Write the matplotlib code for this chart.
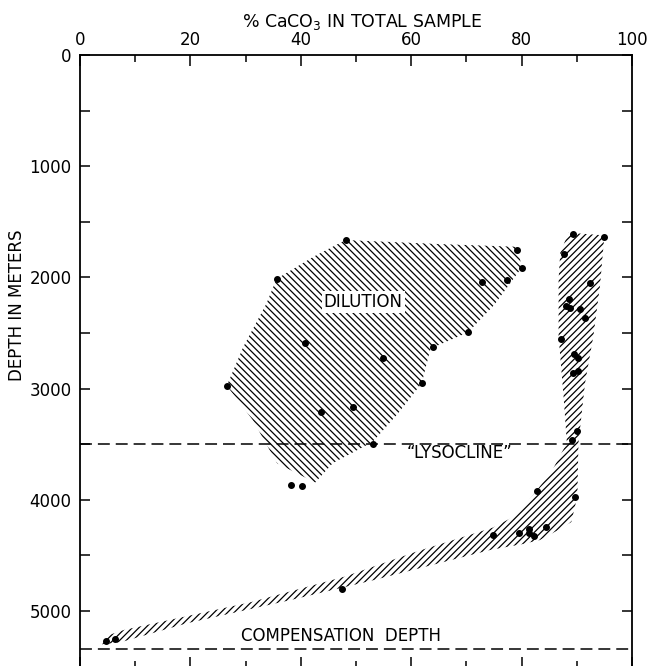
import matplotlib
matplotlib.use('Agg')
import matplotlib.pyplot as plt
from matplotlib.ticker import MultipleLocator, FixedLocator

plt.rcParams['font.family'] = ['DejaVu Sans']
plt.rcParams['hatch.linewidth'] = 0.9

# ---- data ----
x_ticks = [0, 20, 40, 60, 80, 100]
y_ticks = [0, 1000, 2000, 3000, 4000, 5000]
lysocline_depth = 3500
compensation_depth = 5340

# samples in the "dilution" field
dil_pct = [48.1, 35.6, 72.8, 70.3, 64.0, 40.8, 54.9, 26.6, 61.9, 43.7, 49.5, 53.0,
           79.2, 80.0, 77.4, 38.2, 40.3]
dil_depth = [1664, 2014, 2044, 2494, 2629, 2587, 2725, 2974, 2952, 3213, 3163, 3498,
             1750, 1911, 2025, 3864, 3879]

# samples along the main CaCO3-depth trend
band_pct = [89.4, 94.9, 87.6, 92.4, 88.6, 88.0, 88.8, 90.5, 91.5, 87.1, 89.5, 90.2,
            89.3, 90.2, 90.0, 89.1, 82.8, 89.7, 74.8, 79.6, 81.4, 81.4, 82.2, 84.5,
            47.5, 4.7, 6.4]
band_depth = [1610, 1639, 1790, 2048, 2194, 2254, 2272, 2284, 2368, 2557, 2692, 2722,
              2857, 2839, 3381, 3462, 3918, 3972, 4320, 4302, 4266, 4302, 4326, 4245,
              4802, 5270, 5255]

# outline of the hatched dilution field
dil_field_pct = [48.1, 42.3, 35.6, 33.8, 29.6, 26.6, 31.3, 35.7, 42.6, 45.8, 53.0,
                 57.5, 61.9, 63.5, 70.3, 75.0, 80.0, 79.3, 65.0]
dil_field_depth = [1664, 1814, 2014, 2233, 2623, 2974, 3283, 3671, 3845, 3670, 3480,
                   3230, 2952, 2640, 2494, 2250, 1913, 1725, 1700]

# outline of the hatched trend band
band_field_pct = [95.0, 94.2, 93.0, 91.5, 90.3, 90.1, 89.0, 86.5, 83.3, 80.0, 74.4,
                  53.3, 38.2, 19.4, 7.4, 4.0, 5.0, 8.0, 31.0, 48.0, 61.0, 74.8, 79.0,
                  82.5, 85.5, 88.2, 87.6, 86.7, 86.7, 87.0, 88.5]
band_field_depth = [1622, 2078, 2529, 2949, 3489, 3970, 4200, 4275, 4362, 4400, 4450,
                    4721, 4901, 5110, 5280, 5300, 5220, 5170, 4920, 4690, 4465, 4250,
                    4140, 3930, 3740, 3489, 3069, 2529, 2018, 1778, 1598]

# ---- figure ----
W, H = 652, 666
fig = plt.figure(figsize=(W / 100, H / 100), dpi=100)
ymax = 5510
top_px = 55
ppk = 111.2  # pixels per 1000 m
ax_h_px = ymax / 1000 * ppk
ax = fig.add_axes([80 / W, (H - top_px - ax_h_px) / H, 552 / W, ax_h_px / H])
ax.set_xlim(0, 100)
ax.set_ylim(ymax, 0)

ax.fill(dil_field_pct, dil_field_depth, facecolor='none', edgecolor='black',
        linewidth=0, hatch='\\' * 5, zorder=1)
ax.fill(band_field_pct, band_field_depth, facecolor='none', edgecolor='black',
        linewidth=0, hatch='/' * 5, zorder=1)

ax.axhline(lysocline_depth, color='black', lw=1.1, dashes=(7.8, 3.9), zorder=2)
ax.axhline(compensation_depth, color='black', lw=1.1, dashes=(7.8, 3.9), zorder=2)

ax.plot(dil_pct, dil_depth, 'o', color='black', ms=4, zorder=3)
ax.plot(band_pct, band_depth, 'o', color='black', ms=4, zorder=3)

ax.text(51.3, 2221, 'DILUTION', fontsize=12, ha='center', va='center',
        bbox=dict(facecolor='white', edgecolor='none', pad=1.5), zorder=4)
ax.text(68.8, 3575, '\u201CLYSOCLINE\u201D', fontsize=12, ha='center', va='center',
        zorder=4)
ax.text(47.3, 5225, 'COMPENSATION  DEPTH', fontsize=12, ha='center', va='center',
        zorder=4)

# axes styling
ax.xaxis.set_ticks_position('both')
ax.xaxis.set_label_position('top')
ax.xaxis.set_major_locator(FixedLocator(x_ticks))
ax.xaxis.set_minor_locator(MultipleLocator(10))
ax.tick_params(axis='x', which='both', direction='in', labeltop=True,
               labelbottom=False, top=True, bottom=True)
ax.tick_params(axis='x', which='major', length=8, width=1.1, labelsize=12, pad=4)
ax.tick_params(axis='x', which='minor', length=5, width=1.1)

ax.yaxis.set_major_locator(FixedLocator(y_ticks))
ax.yaxis.set_minor_locator(MultipleLocator(500))
ax.tick_params(axis='y', which='both', direction='in', left=True, right=True,
               labelleft=True, labelright=False)
ax.tick_params(axis='y', which='major', length=7, width=1.1, labelsize=12, pad=6)
ax.tick_params(axis='y', which='minor', length=7, width=1.1)
ax.set_xticklabels([str(v) for v in x_ticks])
ax.set_yticklabels([str(v) for v in y_ticks])

for s in ax.spines.values():
    s.set_linewidth(1.3)

ax.set_ylabel('DEPTH IN METERS', fontsize=12)
ax.yaxis.set_label_coords(-0.097, 1 - 2250 / ymax)

fig.text(362 / W, 1 - 21.7 / H, '% CaCO$_3$ IN TOTAL SAMPLE', fontsize=12.5,
         ha='center', va='center')

fig.savefig('out.png', dpi=100)
